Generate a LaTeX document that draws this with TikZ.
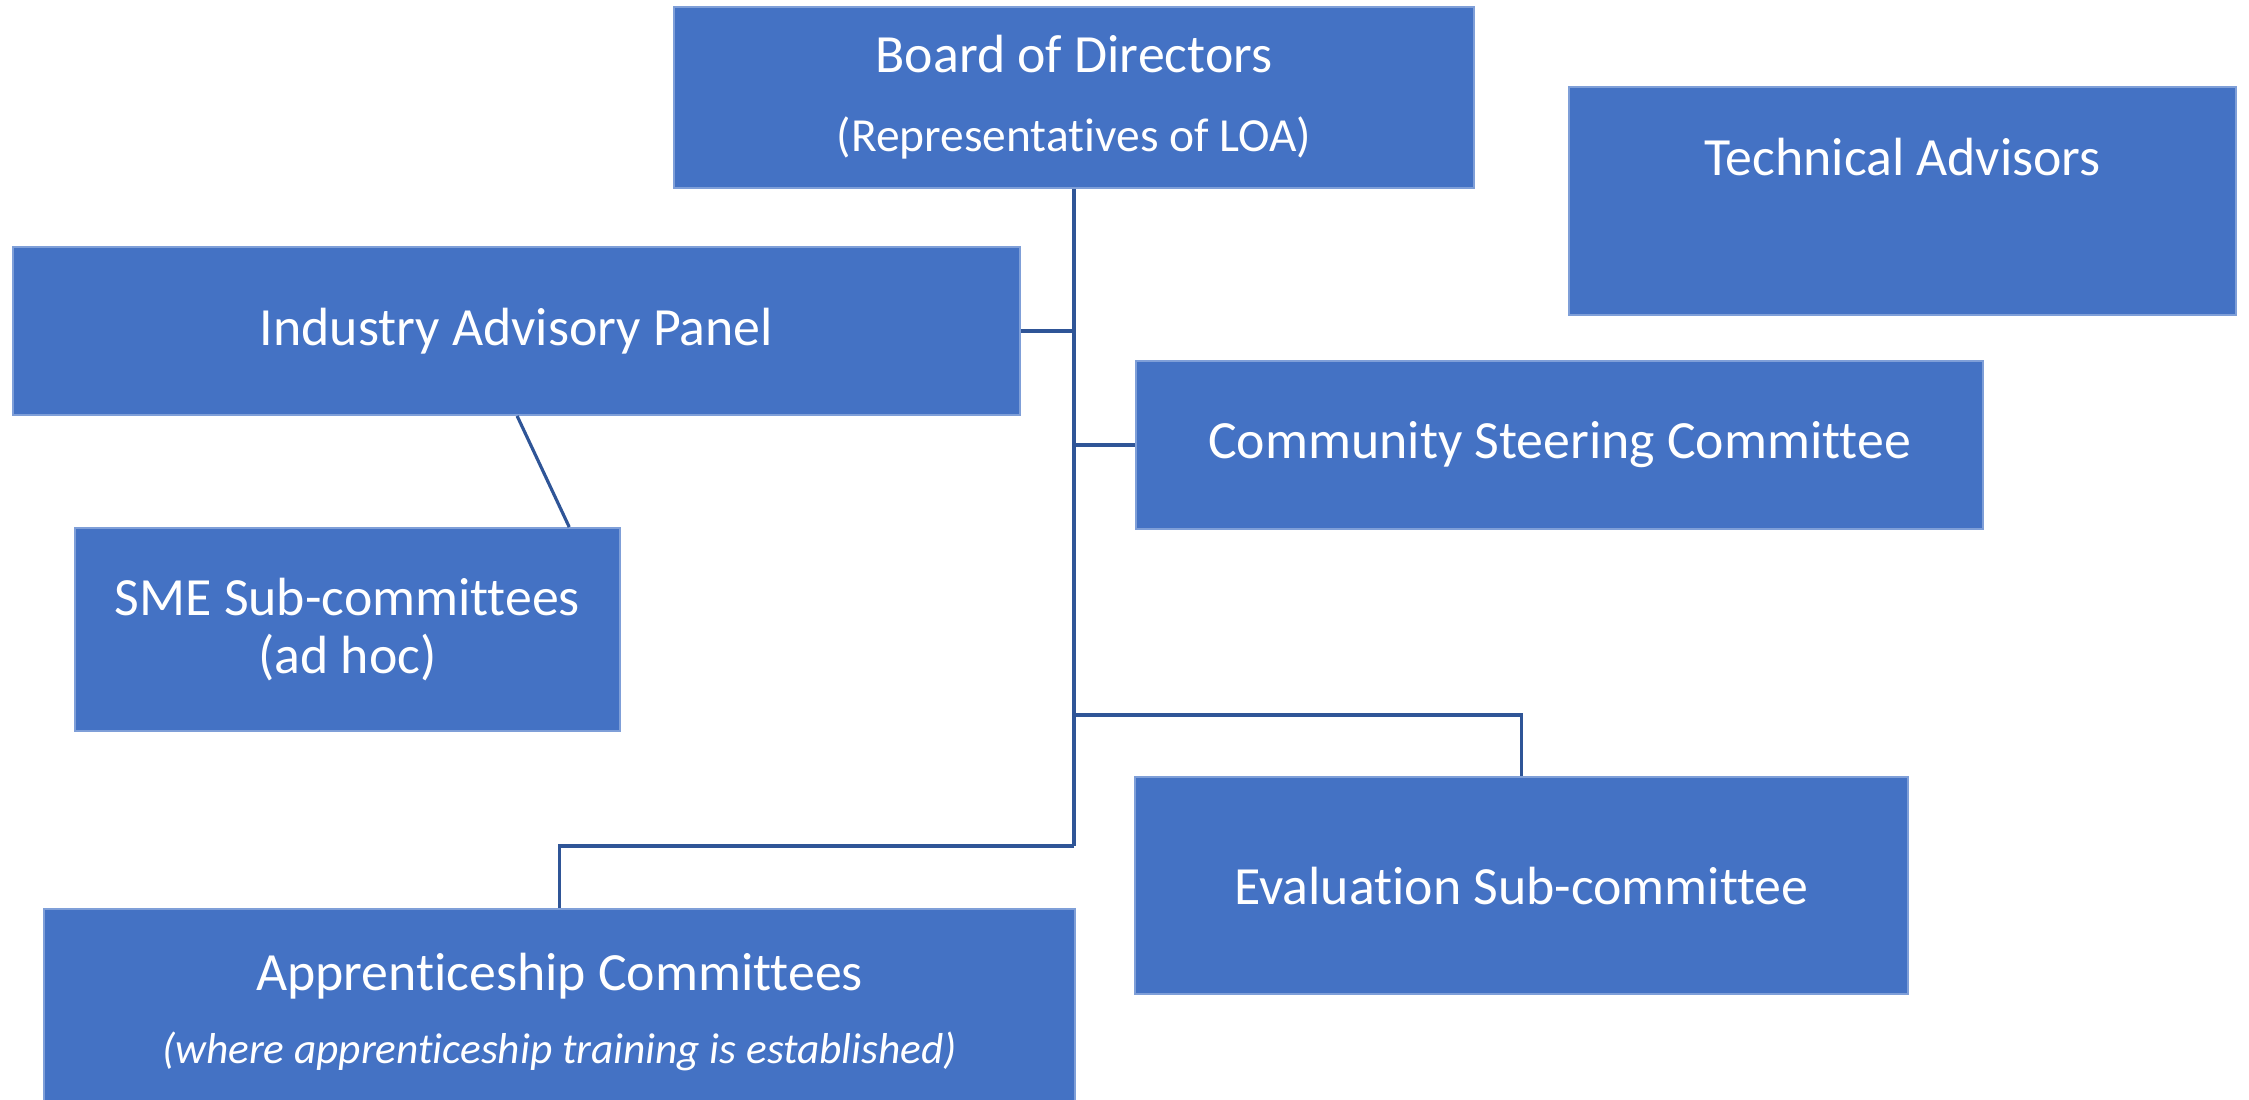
\documentclass[tikz,border=0pt]{standalone}
\usepackage{fontspec}
\setmainfont{Carlito}[Ligatures=NoCommon]
\usepackage{tikz}
\usetikzlibrary{positioning, calc}

\definecolor{boxblue}{HTML}{4472C4}
\definecolor{boxedge}{HTML}{7F9FD8}
\definecolor{linkblue}{HTML}{2F5597}

\tikzset{
  orgbox/.style={fill=boxblue, draw=boxedge, line width=0.5pt, text=white, inner sep=0pt, align=center,
    font=\fontsize{15.3}{22.5}\selectfont},
  link/.style={draw=linkblue, line width=0.9pt}
}

\begin{document}
\begin{tikzpicture}[x=0.01cm, y=-0.01cm]
\useasboundingbox (0,0) rectangle (2249,1099);

% boxes
\node (board) [orgbox, minimum width=8cm, minimum height=1.81cm] at (1074,97.5) {Board of Directors\\{\fontsize{13.5}{22.5}\selectfont(Representatives of LOA)}};
\node (tech) [orgbox, anchor=north west, minimum width=6.67cm, text height=0.89cm, text depth=1.39cm] at (1568,86) {Technical Advisors};
\node (iap) [orgbox, minimum width=10.07cm, minimum height=1.68cm] at (516.5,331) {Industry Advisory Panel};
\node (csc) [orgbox, minimum width=8.47cm, minimum height=1.68cm] at (1559.5,445) {Community Steering Committee};
\node (sme) [orgbox, minimum width=5.45cm, minimum height=2.03cm, font=\fontsize{15.3}{16.5}\selectfont] at (347.5,629.5) {SME Sub-committees\\(ad hoc)};
\node (eval) [orgbox, minimum width=7.73cm, minimum height=2.17cm] at (1521.5,885.5) {Evaluation Sub-committee};
\node (appr) [orgbox, minimum width=10.31cm, minimum height=2.06cm, font=\fontsize{15.3}{20.7}\selectfont] at (559.5,1012) {Apprenticeship Committees\\{\fontsize{12.3}{20.7}\selectfont\itshape(where apprenticeship training is established)}};

% connectors
\coordinate (trunk) at (1074,846);
\draw [link] (board.south) -- (trunk);
\draw [link] (iap.east) -- (iap.east -| board.south);
\draw [link] (csc.west) -- (csc.west -| board.south);
\draw [link] (board.south |- 0,715) -| (eval.north);
\draw [link] (trunk) -| (appr.north);
\draw [link] ([xshift=5.05cm]iap.south west) -- ([xshift=4.95cm]sme.north west);
\end{tikzpicture}
\end{document}
